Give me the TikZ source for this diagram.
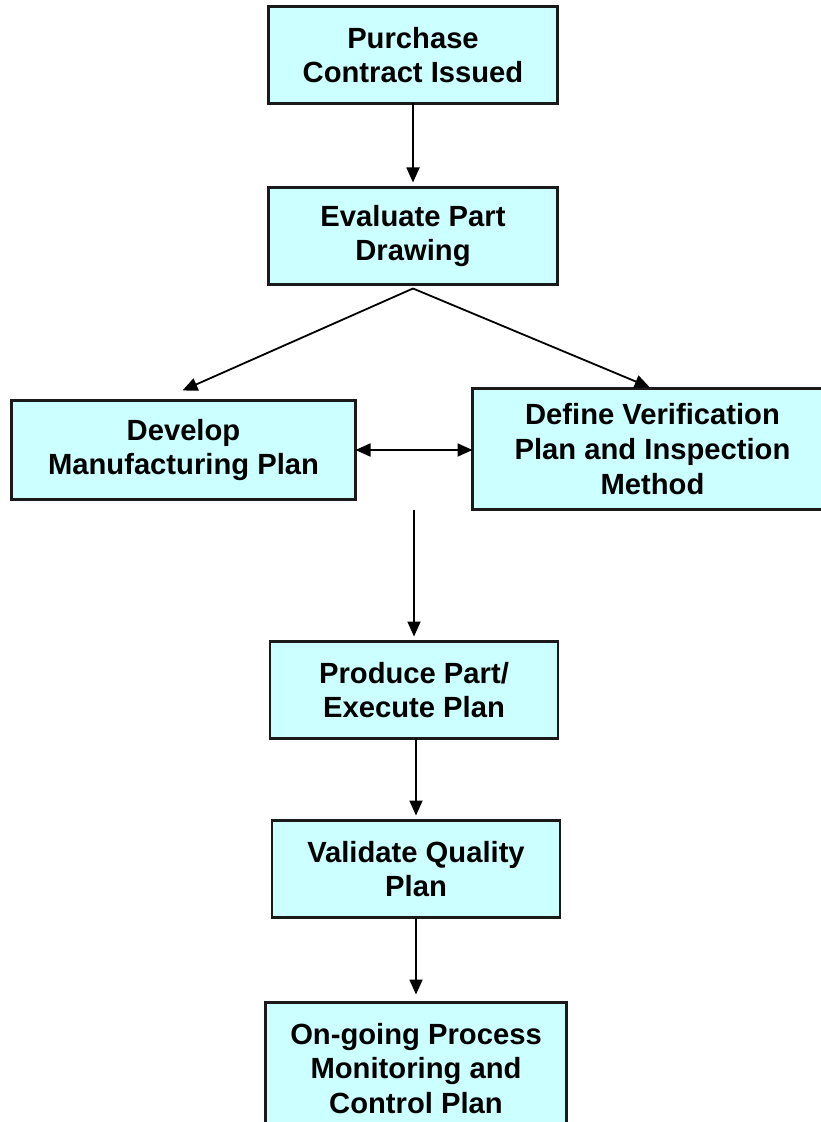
\documentclass[tikz,border=0pt]{standalone}
\usepackage{fontspec}
\setmainfont{Liberation Sans}
\usepackage{tikz}
\usetikzlibrary{arrows.meta,positioning}
\definecolor{boxfill}{HTML}{CCFFFF}
\definecolor{boxline}{HTML}{1A1A1A}

\begin{document}
\begin{tikzpicture}[node distance=42pt,>={Triangle[length=7.5pt,width=6.5pt]},
  font=\fontsize{14.6}{17.3}\selectfont\bfseries,
  stepbox/.style={draw=boxline,line width=1.2pt,fill=boxfill,align=center,minimum width=144.5pt,minimum height=48.5pt,inner sep=3pt,outer sep=0pt},
  flow/.style={->,line width=0.9pt,shorten >=2.5pt}]
\useasboundingbox (0,0) rectangle (410pt,-561pt);
% main column
\node[stepbox] (contract) at (206.5pt,-27.5pt) {Purchase\\Contract Issued};
\node[stepbox,below=of contract] (evaluate) {Evaluate Part\\Drawing};
% the two planning branches
\node[stepbox,minimum width=172pt,minimum height=49.5pt,below=58pt of evaluate,xshift=-114.75pt] (develop) {Develop\\Manufacturing Plan};
\node[stepbox,minimum width=180pt,minimum height=60.5pt,below=52pt of evaluate,xshift=119.75pt] (define) {Define Verification\\Plan and Inspection\\Method};
\node[stepbox,minimum width=144pt,below=178.5pt of evaluate,xshift=0.5pt] (produce) {Produce Part/\\Execute Plan};
\node[stepbox,minimum width=144pt,below=41pt of produce,xshift=1pt] (validate) {Validate Quality\\Plan};
\node[stepbox,minimum width=150.5pt,minimum height=66pt,below=42.5pt of validate] (ongoing) {On-going Process\\Monitoring and\\Control Plan};
\coordinate (fork) at ([yshift=-2pt]evaluate.south);
\coordinate (merge) at (produce.north |- define.south);
\draw[flow] (contract) -- (evaluate);
\draw[flow,shorten >=0pt] (fork) -- ([xshift=-0.5pt,yshift=5pt]develop.north);
\draw[flow,shorten >=1.5pt] (fork) -- (define.north);
\draw[<->,line width=0.9pt] (develop.east) -- (develop.east -| define.west);
\draw[flow] (merge) -- (produce);
\draw[flow] (validate.north |- produce.south) -- (validate.north);
\draw[flow,shorten >=4pt] (validate) -- (ongoing);
\end{tikzpicture}
\end{document}
